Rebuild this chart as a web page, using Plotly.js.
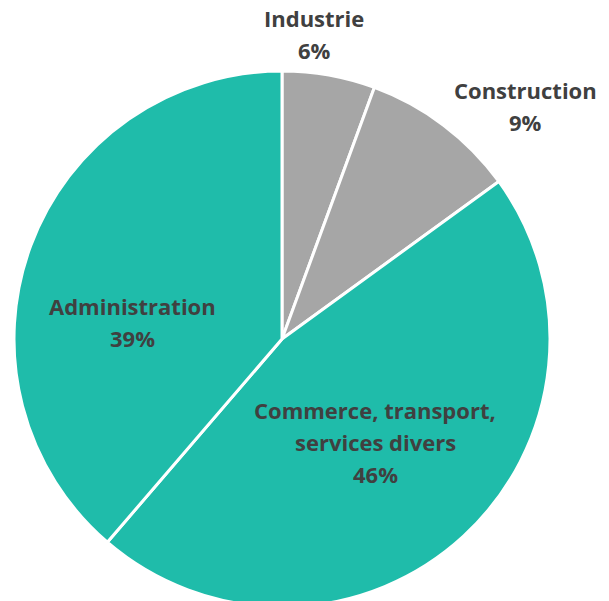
<!DOCTYPE html>
<html>
<head>
<meta charset="utf-8">
<script src="https://cdn.plot.ly/plotly-3.0.1.min.js"></script>
<style>
html,body{margin:0;padding:0;overflow:hidden;background:#fff;}
#chart{width:609px;height:620px;}
</style>
</head>
<body>
<div id="chart"></div>
<script>
var labels = ["Industrie", "Construction", "Commerce, transport,<br>services divers", "Administration"];
var values = [5.6, 9.4, 46.3, 38.7];
var colors = ["#A6A6A6", "#A6A6A6", "#1FBCAA", "#1FBCAA"];

var W = 609, H = 620;
// label anchor (center x, first line y) in pixels, and line spacing
var labelPos = [[314, 18], [525, 90], [375, 410], [132, 306]];
var lineGap = 32;

var total = values.reduce(function(a,b){return a+b;}, 0);
var annotations = [];
labels.forEach(function(l, i){
  var lines = l.split('<br>').concat([Math.round(values[i] / total * 100) + '%']);
  lines.forEach(function(t, k){
    annotations.push({
      text: '<b>' + t + '</b>',
      x: labelPos[i][0] / W, y: 1 - (labelPos[i][1] + k * lineGap) / H,
      xref: 'paper', yref: 'paper', xanchor: 'center', yanchor: 'middle',
      showarrow: false,
      font: {family: '"Open Sans", sans-serif', size: 22, color: '#404040'}
    });
  });
});

var trace = {
  type: 'pie',
  labels: labels,
  values: values,
  sort: false,
  direction: 'clockwise',
  rotation: 0,
  textinfo: 'none',
  hoverinfo: 'label+percent',
  marker: {colors: colors, line: {color: '#FFFFFF', width: 3}},
  domain: {x: [14 / W, 550 / W], y: [1 - 607 / H, 1 - 71 / H]}
};

Plotly.newPlot('chart', [trace], {
  width: W, height: H,
  margin: {l: 0, r: 0, t: 0, b: 0},
  showlegend: false,
  paper_bgcolor: '#FFFFFF',
  annotations: annotations
}, {displayModeBar: false, staticPlot: true});
</script>
</body>
</html>
